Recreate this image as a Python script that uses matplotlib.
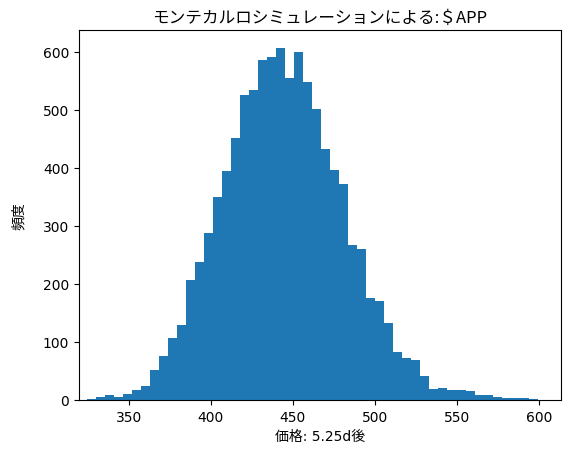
import numpy as np
import matplotlib
matplotlib.use("Agg")
import matplotlib.pyplot as plt

plt.rcParams['font.family'] = ['DejaVu Sans', 'Noto Sans CJK JP']

# Histogram data (counts per bin)
counts = [2, 5, 8, 5, 11, 17, 24, 52, 75, 106,
          130, 207, 237, 287, 349, 395, 451, 526, 534, 585,
          591, 607, 555, 600, 548, 502, 433, 397, 372, 267,
          260, 176, 171, 133, 83, 72, 69, 41, 19, 21,
          17, 17, 15, 9, 9, 5, 3, 3, 3, 2]
bin_start = 324.4
bin_end = 599.2
n_bins = len(counts)

title = "モンテカルロシミュレーションによる:＄APP"
xlabel = "価格: 5.25d後"
ylabel = "頻度"

edges = np.linspace(bin_start, bin_end, n_bins + 1)
centers = (edges[:-1] + edges[1:]) / 2

fig = plt.figure(figsize=(5.7, 4.52), dpi=100)
ax = fig.add_axes([79/570, 1 - 401/452, (561-79)/570, (401-31)/452])
ax.hist(centers, bins=edges, weights=counts, color='#1f77b4')
ax.set_xlim(319.7, 613.4)
ax.set_title(title, fontsize=12, family=['Noto Sans CJK JP', 'DejaVu Sans'])
ax.set_xlabel(xlabel)
ax.set_ylabel(ylabel, labelpad=12)
fig.savefig("out.png", dpi=100)
